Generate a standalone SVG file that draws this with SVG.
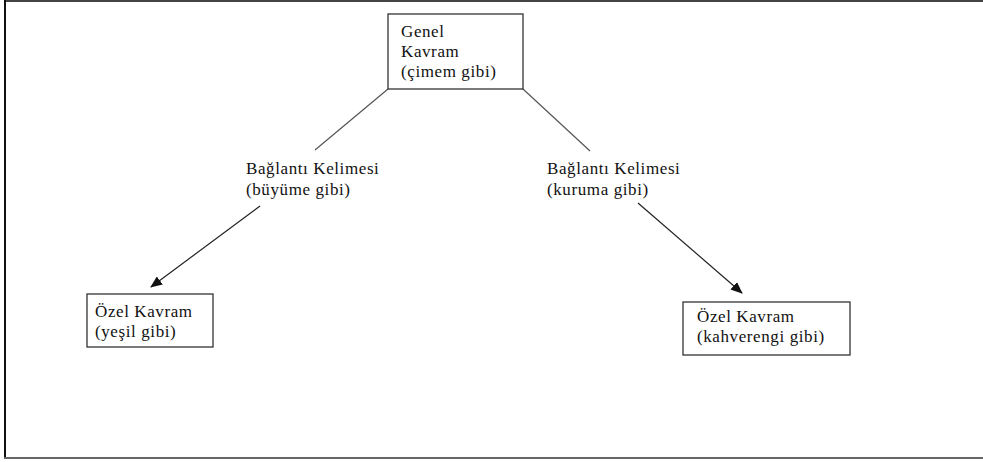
<svg xmlns="http://www.w3.org/2000/svg" width="983" height="462" viewBox="0 0 983 462">
<defs>
<style>
text{font-family:'Liberation Serif','Times New Roman',serif;font-size:17px;letter-spacing:0.6px;fill:#111}
.box{fill:#fff;stroke:#333;stroke-width:1.3}
.ln{stroke:#555;stroke-width:1.2;fill:none}
.ar{stroke:#222;stroke-width:1.2;fill:none;marker-end:url(#ah)}
</style>
<marker id="ah" viewBox="0 0 12 10" refX="11" refY="5" markerWidth="12" markerHeight="10" markerUnits="userSpaceOnUse" orient="auto">
<path d="M0,0 L12,5 L0,10 z" fill="#111"/>
</marker>
</defs>
<rect width="983" height="462" fill="#fff"/>
<g id="frame">
<line x1="5" y1="1" x2="983" y2="1" stroke="#444" stroke-width="2"/>
<line x1="5" y1="0" x2="5" y2="458" stroke="#111" stroke-width="2"/>
<line x1="4" y1="458" x2="983" y2="458" stroke="#666" stroke-width="2"/>
</g>
<g id="connectors">
<line class="ln" x1="388" y1="89" x2="315" y2="150"/>
<line class="ln" x1="523" y1="89" x2="590" y2="151"/>
<line class="ar" x1="260" y1="206" x2="151" y2="287"/>
<line class="ar" x1="638" y1="203" x2="742" y2="293"/>
</g>
<g id="genel">
<rect class="box" x="388" y="14" width="135" height="75"/>
<text x="401" y="37" font-family="Liberation Serif, serif">Genel</text>
<text x="401" y="57" font-family="Liberation Serif, serif">Kavram</text>
<text x="401" y="77" font-family="Liberation Serif, serif">(çimem gibi)</text>
</g>
<g id="baglanti1">
<text x="246" y="174" font-family="Liberation Serif, serif">Bağlantı Kelimesi</text>
<text x="246" y="195" font-family="Liberation Serif, serif">(büyüme gibi)</text>
</g>
<g id="baglanti2">
<text x="547" y="174" font-family="Liberation Serif, serif">Bağlantı Kelimesi</text>
<text x="547" y="195" font-family="Liberation Serif, serif">(kuruma gibi)</text>
</g>
<g id="ozel1">
<rect class="box" x="87" y="294" width="126" height="53"/>
<text x="95" y="317" font-family="Liberation Serif, serif">Özel Kavram</text>
<text x="95" y="337" font-family="Liberation Serif, serif">(yeşil gibi)</text>
</g>
<g id="ozel2">
<rect class="box" x="683" y="302" width="167" height="53"/>
<text x="697" y="322" font-family="Liberation Serif, serif">Özel Kavram</text>
<text x="697" y="342" font-family="Liberation Serif, serif">(kahverengi gibi)</text>
</g>
</svg>
